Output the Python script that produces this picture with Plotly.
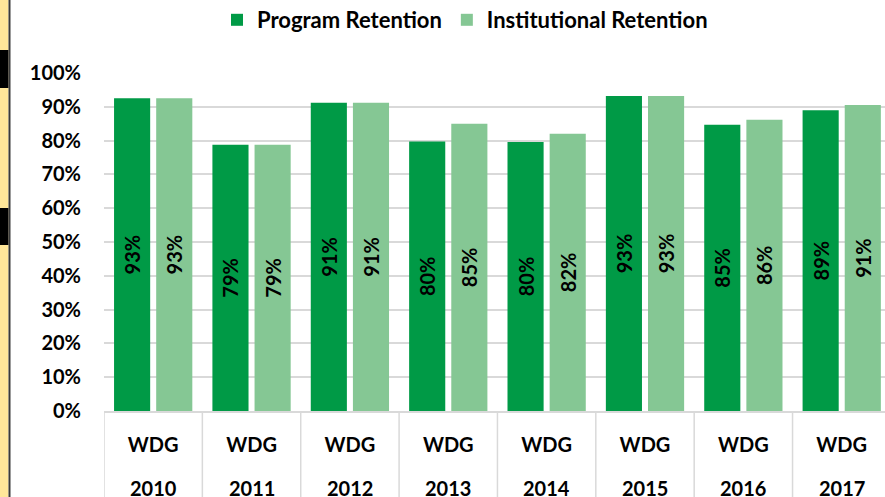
import plotly.graph_objects as go

categories = ["2010", "2011", "2012", "2013", "2014", "2015", "2016", "2017"]
group_label = "WDG"
program = [0.925, 0.788, 0.912, 0.797, 0.796, 0.932, 0.847, 0.890]
institutional = [0.925, 0.788, 0.912, 0.850, 0.820, 0.932, 0.862, 0.905]
program_labels = ["93%", "79%", "91%", "80%", "80%", "93%", "85%", "89%"]
institutional_labels = ["93%", "79%", "91%", "85%", "82%", "93%", "86%", "91%"]
y_ticks = [0, 0.1, 0.2, 0.3, 0.4, 0.5, 0.6, 0.7, 0.8, 0.9, 1.0]

FONT = "Lato"
W, H = 885, 497
ML, MR, MT, MB = 104, 0, 73, 86
PW, PH = W - ML - MR, H - MT - MB

fig = go.Figure()
fig.add_trace(go.Bar(
    name="Program Retention", x=categories, y=program, text=program_labels,
    marker=dict(color="#009A46", line=dict(width=0)),
    textposition="inside", insidetextanchor="middle", textangle=-90,
    textfont=dict(family=FONT, size=20, color="black", weight=700),
))
fig.add_trace(go.Bar(
    name="Institutional Retention", x=categories, y=institutional, text=institutional_labels,
    marker=dict(color="#85C794", line=dict(width=0)),
    textposition="inside", insidetextanchor="middle", textangle=-90,
    textfont=dict(family=FONT, size=20, color="black", weight=700),
))

def px_x(p):
    return (p - ML) / PW

def px_y(p):
    return (H - MB - p) / PH

shapes = []
# category separators below the axis
for i in range(len(categories) + 1):
    shapes.append(dict(type="line", xref="x", yref="paper", x0=i - 0.5, x1=i - 0.5,
                       y0=0, y1=px_y(H + 5), line=dict(color="#D9D9D9", width=1.5), layer="below"))
# left decorative border
shapes.append(dict(type="rect", xref="paper", yref="paper", x0=px_x(-2), x1=px_x(8.5),
                   y0=px_y(H + 5), y1=px_y(-5), fillcolor="#FFE699", line=dict(width=0)))
for (a, b) in [(50, 88), (208, 245)]:
    shapes.append(dict(type="rect", xref="paper", yref="paper", x0=px_x(-2), x1=px_x(8.5),
                       y0=px_y(b), y1=px_y(a), fillcolor="#000000", line=dict(width=0)))
shapes.append(dict(type="line", xref="paper", yref="paper", x0=px_x(9.5), x1=px_x(9.5),
                   y0=px_y(H + 5), y1=px_y(-5), line=dict(color="#3A3A3A", width=2)))

# year labels (second level of the category axis)
annotations = [
    dict(x=i, xref="x", y=px_y(488), yref="paper", text=c, showarrow=False,
         xanchor="center", yanchor="middle",
         font=dict(family=FONT, size=20, color="black", weight=700))
    for i, c in enumerate(categories)
]

fig.update_layout(
    width=W, height=H,
    margin=dict(l=ML, r=MR, t=MT, b=MB, pad=0, autoexpand=False),
    paper_bgcolor="white", plot_bgcolor="white",
    barmode="group", bargap=0.143, bargroupgap=0.143,
    font=dict(family=FONT, size=20, color="black", weight=700),
    uniformtext=dict(minsize=20, mode="show"),
    legend=dict(orientation="h", x=px_x(465), xanchor="center",
                yref="container", y=1 - 20 / H, yanchor="middle",
                font=dict(family=FONT, size=22, color="black", weight=700),
                bgcolor="rgba(0,0,0,0)", traceorder="normal", itemwidth=30),
    shapes=shapes,
    annotations=annotations,
    showlegend=True,
)
fig.update_xaxes(
    type="category", categoryorder="array", categoryarray=categories,
    range=[-0.5, 7.44], showgrid=False, zeroline=False,
    showline=True, linecolor="#D9D9D9", linewidth=1.5,
    tickvals=categories, ticktext=[group_label] * len(categories),
    ticks="", tickfont=dict(family=FONT, size=20, color="black", weight=700),
    ticklabelstandoff=15, fixedrange=True, automargin=False,
)
fig.update_yaxes(
    range=[0, 1], tickvals=y_ticks, tickformat=".0%",
    showgrid=True, gridcolor="#D9D9D9", gridwidth=1.5,
    zeroline=False, showline=False, ticks="",
    tickfont=dict(family=FONT, size=20, color="black", weight=700),
    ticklabelstandoff=22, fixedrange=True, automargin=False,
)

fig.write_html(
    "out.html",
    config={"displayModeBar": False},
    post_script="document.body.style.margin='0';document.body.style.overflow='hidden';",
)
